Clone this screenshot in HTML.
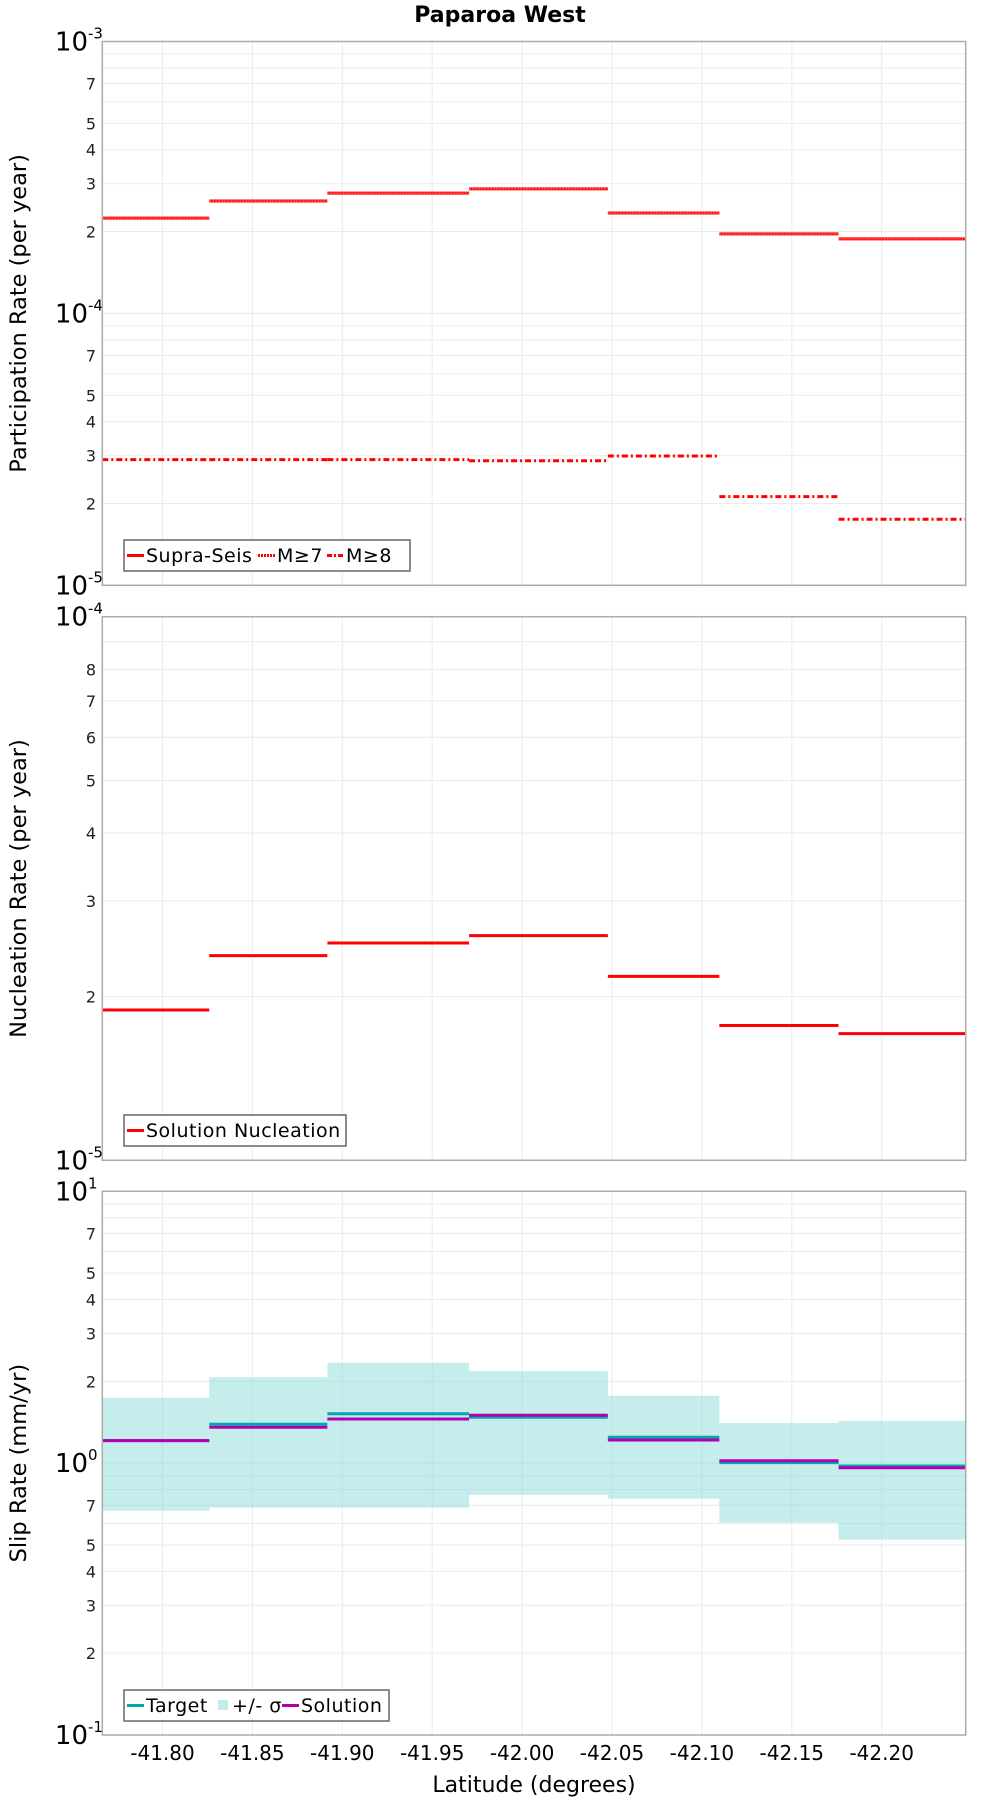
<!DOCTYPE html>
<html><head><meta charset="utf-8"><style>
html,body{margin:0;padding:0;background:#fff;}
svg{display:block;font-family:"DejaVu Sans","Liberation Sans",sans-serif;}
</style></head><body>
<svg id="chart" width="1000" height="1800" viewBox="0 0 1000 1800" xmlns="http://www.w3.org/2000/svg">
<text x="500" y="22" text-anchor="middle" font-size="22" font-weight="bold">Paparoa West</text>
<text x="534" y="1792" text-anchor="middle" font-size="22">Latitude (degrees)</text>
</svg>
<script>
// shared x bins
const binEdges = [-41.7665, -41.8260, -41.8917, -41.9705, -42.0477, -42.1097, -42.1760, -42.2467];
const xTicks = [-41.80, -41.85, -41.90, -41.95, -42.00, -42.05, -42.10, -42.15, -42.20];
const xTickLabels = ["-41.80","-41.85","-41.90","-41.95","-42.00","-42.05","-42.10","-42.15","-42.20"];
// panel 1: participation
const supraSeis = [2.24e-4, 2.59e-4, 2.77e-4, 2.87e-4, 2.34e-4, 1.96e-4, 1.88e-4];
const mGe7 = [2.24e-4, 2.59e-4, 2.77e-4, 2.87e-4, 2.34e-4, 1.96e-4, 1.88e-4];
const mGe8 = [2.90e-5, 2.90e-5, 2.90e-5, 2.87e-5, 2.99e-5, 2.12e-5, 1.75e-5];
// panel 2: nucleation
const nucleation = [1.89e-5, 2.38e-5, 2.51e-5, 2.59e-5, 2.18e-5, 1.77e-5, 1.71e-5];
// panel 3: slip rate
const slipTarget = [1.21, 1.39, 1.52, 1.475, 1.245, 1.004, 0.976];
const slipSolution = [1.21, 1.355, 1.453, 1.50, 1.217, 1.021, 0.962];
const slipUpper = [1.74, 2.07, 2.34, 2.18, 1.77, 1.405, 1.43];
const slipLower = [0.668, 0.686, 0.686, 0.765, 0.740, 0.604, 0.523];

const NS = "http://www.w3.org/2000/svg";
const svg = document.getElementById('chart');
const PL = 102.3, PR = 965.7;
function xScale(lat){ return 162.5 + (-41.80 - lat) / 0.05 * 89.9; }
function mk(tag, attrs, parent){
  const e = document.createElementNS(NS, tag);
  for (const k in attrs) e.setAttribute(k, attrs[k]);
  (parent || svg).appendChild(e);
  return e;
}
function makeY(top, bottom, eMax, eMin){
  return v => top + (eMax - Math.log10(v)) / (eMax - eMin) * (bottom - top);
}
function panel(name, top, bottom, eMax, eMin, minorLabels, yTitle){
  const g = mk('g', {});
  
  
  const y = makeY(top, bottom, eMax, eMin);
  for (let e = eMin; e < eMax; e++){
    for (let m = 1; m <= 9; m++){
      const v = m * Math.pow(10, e);
      const yy = y(v);
      const gl = mk('line', {x1:PL, x2:PR, y1:yy, y2:yy, stroke:'#ebebeb', 'stroke-width':1}, g);
      
      
      if (m > 1 && minorLabels.includes(m)){
        const t = mk('text', {x:96, y:yy + 6, 'text-anchor':'end', 'font-size':16, fill:'#222'}, g);
        
        
        t.textContent = m;
      }
    }
  }
  for (const xt of xTicks){
    const xx = xScale(xt);
    const gl = mk('line', {x1:xx, x2:xx, y1:top, y2:bottom, stroke:'#ebebeb', 'stroke-width':1}, g);
    
    
  }
  for (let e = eMin; e <= eMax; e++){
    const yy = y(Math.pow(10, e));
    const t = mk('text', {x:88, y:yy + 9, 'text-anchor':'end', 'font-size':26, fill:'#000'}, g);
    
    
    t.textContent = '10';
    const s = mk('text', {x:88, y:yy - 3, 'text-anchor':'start', 'font-size':15, fill:'#000'}, g);
    
    
    s.textContent = String(e);
  }
  const yt = mk('text', {x:0, y:0, 'text-anchor':'middle', 'font-size':22.5, transform:'translate(26,' + ((top+bottom)/2) + ') rotate(-90)'}, g);
  
  
  yt.textContent = yTitle;
  return {g, y};
}
function frame(g, top, bottom){
  const r = mk('rect', {x:PL, y:top, width:PR-PL, height:bottom-top, fill:'none', stroke:'#aaa', 'stroke-width':1.5}, g);
  
  
}
function steps(g, vals, y, color, width, dash, name){
  vals.forEach((v, i) => {
    const x1 = xScale(binEdges[i]), x2 = xScale(binEdges[i+1]);
    const a = {x1:x1, x2:x2, y1:y(v), y2:y(v), stroke:color, 'stroke-width':width};
    if (dash) a['stroke-dasharray'] = dash;
    const l = mk('line', a, g);
    
    
  });
}
function xLabels(g, bottom){
  xTicks.forEach((xt, i) => {
    const t = mk('text', {x:xScale(xt), y:bottom + 25, 'text-anchor':'middle', 'font-size':20}, g);
    
    
    t.textContent = xTickLabels[i];
  });
}
function legend(g, x, y, w, items){
  const lg = mk('g', {}, g);
  
  
  const r = mk('rect', {x:x, y:y, width:w, height:31, fill:'#fff', stroke:'#666', 'stroke-width':1.5}, lg);
  
  
  let cx = x + 3;
  items.forEach(it => {
    if (it.swatch){
      const s = mk('rect', {x:cx + 2, y:y + 10, width:10, height:10, fill:it.color}, lg);
      
      
      cx += 16;
    } else {
      const a = {x1:cx, x2:cx + 17, y1:y + 15.5, y2:y + 15.5, stroke:it.color, 'stroke-width':3};
      if (it.dash) a['stroke-dasharray'] = it.dash;
      const l = mk('line', a, lg);
      
      
      cx += 19;
    }
    const t = mk('text', {x:cx, y:y + 22, 'font-size':19, 'letter-spacing':0.5}, lg);
    
    
    t.textContent = it.label;
    cx += it.w;
  });
}
// panel 1
const p1 = panel('participation-panel', 41.5, 585.3, -3, -5, [2,3,4,5,7], 'Participation Rate (per year)');
steps(p1.g, supraSeis, p1.y, '#ff0000', 3, null, 'supra-seis');
steps(p1.g, mGe7, p1.y, '#ff4040', 2, '2,1', 'm-ge-7');
steps(p1.g, mGe8, p1.y, '#ff0000', 3, '6,3,2,3', 'm-ge-8');
frame(p1.g, 41.5, 585.3);
legend(p1.g, 124, 540, 286, [
  {label:'Supra-Seis', color:'#ff0000', w:112},
  {label:'M≥7', color:'#ff0000', dash:'2,1', w:50},
  {label:'M≥8', color:'#ff0000', dash:'5,2,2,2', w:50}
]);
// panel 2
const p2 = panel('nucleation-panel', 616.7, 1160.3, -4, -5, [2,3,4,5,6,7,8], 'Nucleation Rate (per year)');
steps(p2.g, nucleation, p2.y, '#ff0000', 3, null, 'nucleation');
frame(p2.g, 616.7, 1160.3);
legend(p2.g, 124, 1115, 222, [{label:'Solution Nucleation', color:'#ff0000', w:200}]);
// panel 3
const p3 = panel('slip-rate-panel', 1191.3, 1735, 1, -1, [2,3,4,5,7], 'Slip Rate (mm/yr)');
slipUpper.forEach((u, i) => {
  const x1 = xScale(binEdges[i]), x2 = xScale(binEdges[i+1]);
  const r = mk('rect', {x:x1, y:p3.y(u), width:x2 - x1, height:p3.y(slipLower[i]) - p3.y(u), fill:'#7fd6d4', 'fill-opacity':0.45}, p3.g);
  
  
});
steps(p3.g, slipTarget, p3.y, '#00aaaa', 3, null, 'target');
steps(p3.g, slipSolution, p3.y, '#b000b0', 3, null, 'solution');
frame(p3.g, 1191.3, 1735);
xLabels(p3.g, 1735);
legend(p3.g, 124, 1690, 265, [
  {label:'Target', color:'#00aaaa', w:70},
  {label:'+/- σ', color:'#c3ecea', swatch:true, w:50},
  {label:'Solution', color:'#b000b0', w:80}
]);
</script>
</body></html>
